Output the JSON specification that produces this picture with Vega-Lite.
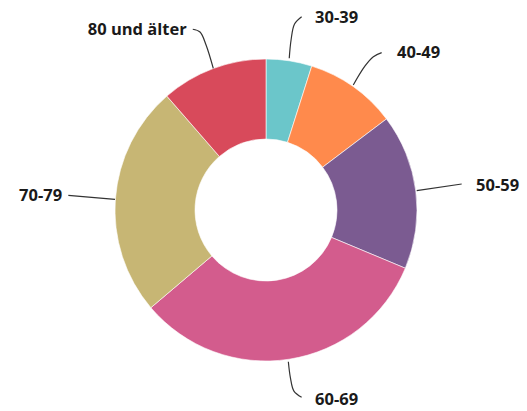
{
  "$schema": "https://vega.github.io/schema/vega-lite/v6.json",
  "width": 527,
  "height": 411,
  "autosize": {"type": "fit", "contains": "padding"},
  "padding": {"left": 5, "top": 9, "right": 0, "bottom": 0},
  "background": "white",
  "config": {"view": {"stroke": null}},
  "datasets": {
    "slices": [
      {"gruppe": "30-39", "anteil": 4.9, "ord": 1},
      {"gruppe": "40-49", "anteil": 9.8, "ord": 2},
      {"gruppe": "50-59", "anteil": 16.6, "ord": 3},
      {"gruppe": "60-69", "anteil": 32.5, "ord": 4},
      {"gruppe": "70-79", "anteil": 24.8, "ord": 5},
      {"gruppe": "80 und älter", "anteil": 11.4, "ord": 6}
    ],
    "leaders": [
      {"gruppe": "30-39", "i": 1, "u": 15.4, "v": 100.5},
      {"gruppe": "30-39", "i": 2, "u": 16.6, "v": 112.6},
      {"gruppe": "30-39", "i": 3, "u": 18.9, "v": 123.2},
      {"gruppe": "30-39", "i": 4, "u": 23.6, "v": 128.0},
      {"gruppe": "40-49", "i": 1, "u": 57.8, "v": 82.8},
      {"gruppe": "40-49", "i": 2, "u": 65.6, "v": 95.4},
      {"gruppe": "40-49", "i": 3, "u": 71.1, "v": 101.5},
      {"gruppe": "40-49", "i": 4, "u": 76.6, "v": 104.2},
      {"gruppe": "50-59", "i": 1, "u": 99.8, "v": 12.8},
      {"gruppe": "50-59", "i": 2, "u": 129.6, "v": 17.2},
      {"gruppe": "60-69", "i": 1, "u": 14.8, "v": -100.5},
      {"gruppe": "60-69", "i": 2, "u": 16.2, "v": -111.3},
      {"gruppe": "60-69", "i": 3, "u": 18.5, "v": -119.9},
      {"gruppe": "60-69", "i": 4, "u": 23.6, "v": -124.0},
      {"gruppe": "70-79", "i": 1, "u": -130.9, "v": 9.7},
      {"gruppe": "70-79", "i": 2, "u": -100.0, "v": 7.1},
      {"gruppe": "80 und älter", "i": 1, "u": -48.5, "v": 119.7},
      {"gruppe": "80 und älter", "i": 2, "u": -43.7, "v": 117.9},
      {"gruppe": "80 und älter", "i": 3, "u": -39.7, "v": 109.3},
      {"gruppe": "80 und älter", "i": 4, "u": -34.9, "v": 93.8}
    ],
    "labels": [
      {"gruppe": "30-39", "u": 32.5, "v": 127.3, "seite": "left"},
      {"gruppe": "40-49", "u": 86.8, "v": 104.0, "seite": "left"},
      {"gruppe": "50-59", "u": 139.1, "v": 15.8, "seite": "left"},
      {"gruppe": "60-69", "u": 32.5, "v": -125.6, "seite": "left"},
      {"gruppe": "70-79", "u": -135.0, "v": 9.3, "seite": "right"},
      {"gruppe": "80 und älter", "u": -52.5, "v": 118.9, "seite": "right"}
    ]
  },
  "layer": [
    {
      "data": {"name": "slices"},
      "mark": {"type": "arc", "outerRadius": 151, "innerRadius": 71, "stroke": "white", "strokeWidth": 0.6},
      "encoding": {
        "theta": {"field": "anteil", "type": "quantitative", "stack": true},
        "order": {"field": "ord", "type": "quantitative"},
        "color": {
          "field": "gruppe",
          "type": "nominal",
          "legend": null,
          "scale": {
            "domain": ["30-39", "40-49", "50-59", "60-69", "70-79", "80 und älter"],
            "range": ["#6BC6CA", "#FF8A4C", "#7B5B91", "#D35C8D", "#C7B674", "#D84A5B"]
          }
        }
      }
    },
    {
      "data": {"name": "leaders"},
      "mark": {"type": "line", "interpolate": "catmull-rom", "color": "#333333", "strokeWidth": 1.2},
      "encoding": {
        "x": {"field": "u", "type": "quantitative", "axis": null, "scale": {"domain": [-172.85, 172.85], "nice": false, "zero": false}},
        "y": {"field": "v", "type": "quantitative", "axis": null, "scale": {"domain": [-133.11, 133.11], "nice": false, "zero": false}},
        "detail": {"field": "gruppe"},
        "order": {"field": "i", "type": "quantitative"}
      }
    },
    {
      "data": {"name": "labels"},
      "transform": [{"filter": "datum.seite == 'left'"}],
      "mark": {"type": "text", "align": "left", "baseline": "middle", "font": "Open Sans", "fontWeight": "bold", "fontSize": 16.5, "color": "#1a1a1a"},
      "encoding": {
        "x": {"field": "u", "type": "quantitative", "axis": null, "scale": {"domain": [-172.85, 172.85], "nice": false, "zero": false}},
        "y": {"field": "v", "type": "quantitative", "axis": null, "scale": {"domain": [-133.11, 133.11], "nice": false, "zero": false}},
        "text": {"field": "gruppe"}
      }
    },
    {
      "data": {"name": "labels"},
      "transform": [{"filter": "datum.seite == 'right'"}],
      "mark": {"type": "text", "align": "right", "baseline": "middle", "font": "Open Sans", "fontWeight": "bold", "fontSize": 16.5, "color": "#1a1a1a"},
      "encoding": {
        "x": {"field": "u", "type": "quantitative", "axis": null, "scale": {"domain": [-172.85, 172.85], "nice": false, "zero": false}},
        "y": {"field": "v", "type": "quantitative", "axis": null, "scale": {"domain": [-133.11, 133.11], "nice": false, "zero": false}},
        "text": {"field": "gruppe"}
      }
    }
  ]
}
